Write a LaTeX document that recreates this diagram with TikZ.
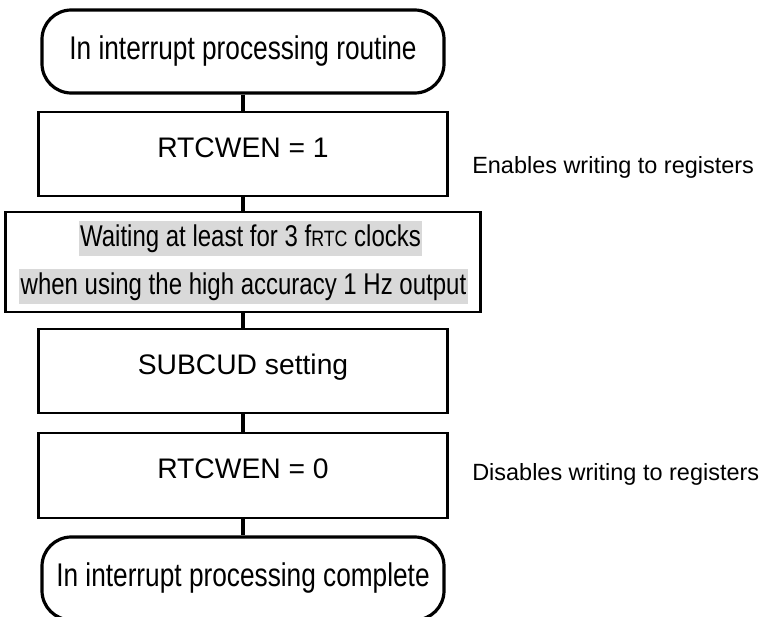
\documentclass[tikz,border=0pt]{standalone}
\usepackage{fontspec}
\setmainfont{Liberation Sans}
\newfontfamily\narrowsans[FakeStretch=0.8]{Liberation Sans}
\definecolor{hlgray}{RGB}{217,217,217}
\begin{document}
\begin{tikzpicture}[x=0.75pt, y=-0.75pt,
    term/.style={draw, line width=2.4pt, rounded corners=22pt, minimum width=301.5pt, minimum height=62.25pt, inner sep=0pt, font=\narrowsans\fontsize{24.6}{26}\selectfont},
    proc/.style={draw, line width=2pt, minimum width=306.75pt, minimum height=63pt, inner sep=0pt, font=\fontsize{21.2}{24}\selectfont, text height=15.2pt, text depth=10.7pt},
    link/.style={line width=3pt},
    hl/.style={fill=hlgray, inner xsep=1pt, inner ysep=0pt, minimum height=26pt, font=\narrowsans\fontsize{22.5}{24}\selectfont},
    note/.style={anchor=base west, inner sep=0pt, font=\fontsize{17.6}{20}\selectfont}]
    \useasboundingbox (0,0) rectangle (768,617);
    % flow
    \node[term] (start) at (243, 51.5) {In interrupt processing routine};
    \node[proc] (wen1) at (243, 154) {RTCWEN = 1};
    \node[draw, line width=2pt, minimum width=356.25pt, minimum height=75pt] (wait) at (243, 262) {};
    \node[hl] (wait1) at (250.5, 238.5) {Waiting at least for 3 f{\fontsize{16.7}{18}\selectfont RTC} clocks\ };
    \node[hl] (wait2) at (243.5, 286.5) {when using the high accuracy 1 Hz output};
    \node[proc] (subcud) at (243, 371) {SUBCUD setting};
    \node[proc, minimum height=63.75pt] (wen0) at (243, 475.5) {RTCWEN = 0};
    \node[term] (done) at (243, 578.5) {In interrupt processing complete};
    % connectors
    \draw[link] (start) -- (wen1);
    \draw[link] (wen1) -- (wait);
    \draw[link] (wait) -- (subcud);
    \draw[link] (subcud) -- (wen0);
    \draw[link] (wen0) -- (done);
    % notes
    \node[note] (en) at (472, 173) {Enables writing to registers};
    \node[note] (dis) at (472, 480) {Disables writing to registers};
\end{tikzpicture}
\end{document}
